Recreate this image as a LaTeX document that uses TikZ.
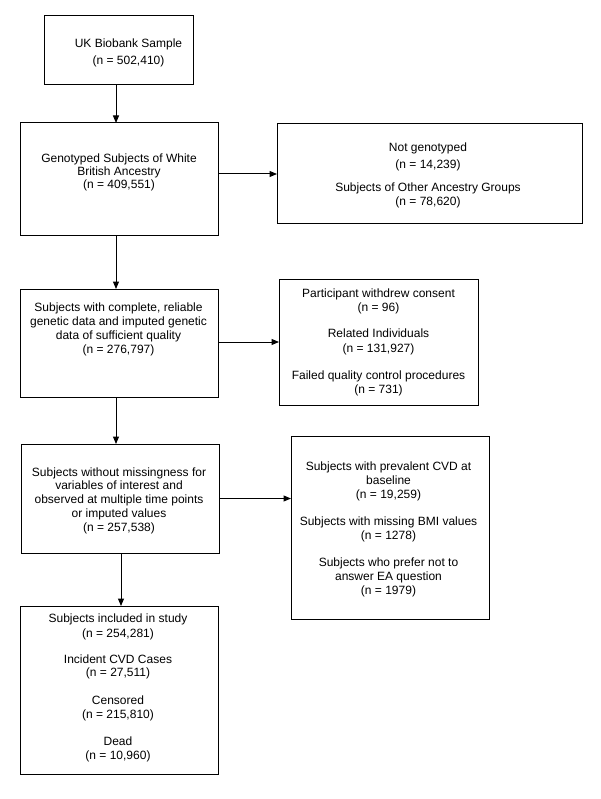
\documentclass[tikz,border=0pt]{standalone}
\usepackage{fontspec}
\setmainfont{Liberation Sans}
\usetikzlibrary{arrows.meta}
\begin{document}
\begin{tikzpicture}[x=1pt,y=-1pt,
  box/.style={draw=black,line width=1pt,rectangle,inner sep=0pt,outer sep=0pt},
  txt/.style={align=center,anchor=base,inner sep=0pt,text=black,
    font=\fontsize{12}{13.7}\selectfont},
  arr/.style={draw=black,line width=1pt,-{Triangle[length=7.5pt,width=6pt]}}]
\useasboundingbox (0,0) rectangle (600,799);
\fill[white] (0,0) rectangle (600,799);

% boxes
\node[box,minimum width=149pt,minimum height=69pt]  (b1) at (118.5,50.5) {};
\node[box,minimum width=198pt,minimum height=113pt] (b2) at (119,179.5) {};
\node[box,minimum width=305pt,minimum height=100pt] (b3) at (429.5,174) {};
\node[box,minimum width=198pt,minimum height=108pt] (b4) at (119,343) {};
\node[box,minimum width=199pt,minimum height=126pt] (b5) at (378.5,342) {};
\node[box,minimum width=198pt,minimum height=109pt] (b6) at (120,498.5) {};
\node[box,minimum width=198pt,minimum height=183pt] (b7) at (390,527.5) {};
\node[box,minimum width=198pt,minimum height=168pt] (b8) at (119,690) {};

% texts (each placed by the baseline of its last line)
\node[txt] (t1) at (128.5,65) {UK Biobank Sample\\[3.3pt](n = 502,410)};
\node[txt] (t2) at (119,189) {Genotyped Subjects of White\\[-0.7pt]British Ancestry\\[-0.7pt](n = 409,551)};
\node[txt] (t3) at (428,205.5) {Not genotyped\\[3pt](n = 14,239)\\[9.8pt]Subjects of Other Ancestry Groups\\(n = 78,620)};
\node[txt] (t4) at (118.5,353) {Subjects with complete, reliable\\genetic data and imputed genetic\\data of sufficient quality\\(n = 276,797)};
\node[txt] (t5) at (378.5,393) {Participant withdrew consent\\(n = 96)\\[12.3pt]Related Individuals\\[1.5pt](n = 131,927)\\[13pt]Failed quality control procedures\\(n = 731)};
\node[txt] (t6) at (119,531) {Subjects without missingness for\\variables of interest and\\observed at multiple time points\\or imputed values\\(n = 257,538)};
\node[txt] (t7) at (388.5,594) {Subjects with prevalent CVD at\\baseline\\(n = 19,259)\\[14pt]Subjects with missing BMI values\\(n = 1278)\\[13.3pt]Subjects who prefer not to\\answer EA question\\(n = 1979)};
\node[txt] (t8) at (118,759) {Subjects included in study\\[1.3pt](n = 254,281)\\[12.3pt]Incident CVD Cases\\(n = 27,511)\\[14pt]Censored\\(n = 215,810)\\[13.3pt]Dead\\(n = 10,960)};

% connectors
\draw[arr] ([xshift=-2.5pt]b1.south) -- ([xshift=-2.5pt]b1.south |- b2.north);
\draw[arr] (b2.east |- b3.west) -- (b3.west);
\draw[arr] ([xshift=-3pt]b2.south) -- ([xshift=-3pt]b2.south |- b4.north);
\draw[arr] (b4.east |- b5.west) -- (b5.west);
\draw[arr] ([xshift=-3pt]b4.south) -- ([xshift=-3pt]b4.south |- b6.north);
\draw[arr] (b6.east) -- (b6.east -| b7.west);
\draw[arr] ([xshift=1pt]b6.south) -- ([xshift=1pt]b6.south |- b8.north);
\end{tikzpicture}
\end{document}
